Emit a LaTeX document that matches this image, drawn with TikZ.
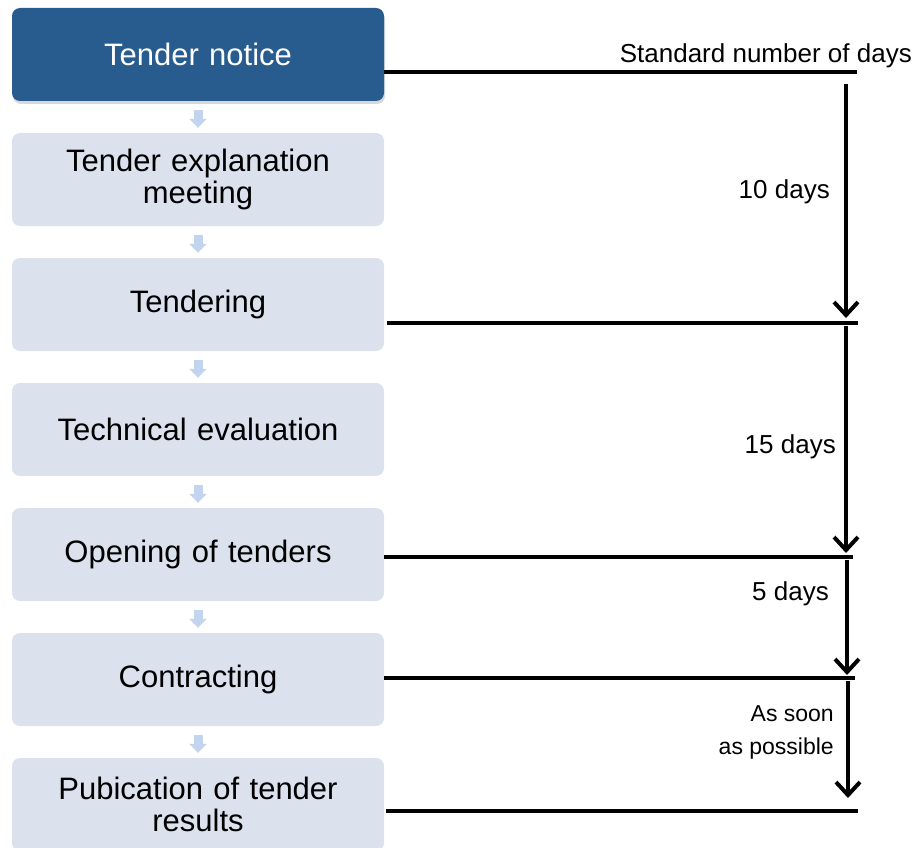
\documentclass[tikz,border=0pt]{standalone}
\usepackage{fontspec}
\setmainfont{Liberation Sans}
\usetikzlibrary{arrows.meta,shadows}

\definecolor{noticeblue}{HTML}{285C8F}
\definecolor{stepgrey}{HTML}{DCE1EE}
\definecolor{hintblue}{HTML}{C3D4EE}

\tikzset{
    stepbox/.style={rounded corners=8pt, fill=stepgrey, minimum width=372pt, minimum height=93pt,
        text width=360pt, align=center, inner sep=0pt, font=\fontsize{31}{32}\selectfont},
    firstbox/.style={stepbox, fill=noticeblue, text=white,
        drop shadow={shadow xshift=1pt, shadow yshift=-3pt, opacity=0.3}},
    hint/.style={line width=9pt, hintblue, -{Triangle[length=9pt, width=17pt]},
        shorten <=9pt, shorten >=5pt},
    cutline/.style={line width=4pt},
    spanarrow/.style={line width=4pt, ->},
    daylabel/.style={anchor=base east, inner sep=0pt, font=\fontsize{26}{30}\selectfont},
}

\begin{document}
\begin{tikzpicture}[x=1pt, y=-1pt, >={Straight Barb[length=13pt, width=24pt]}]
            \useasboundingbox (0,0) rectangle (916,848);

            % steps on the left
            \node[firstbox] (notice) at (198, 54.5) {Tender notice};
            \node[stepbox] (meeting) at (198, 179.5) {Tender explanation\\meeting};
            \node[stepbox] (tendering) at (198, 304.5) {Tendering};
            \node[stepbox] (evaluation) at (198, 429.5) {Technical evaluation};
            \node[stepbox] (opening) at (198, 554.5) {Opening of tenders};
            \node[stepbox] (contracting) at (198, 679.5) {Contracting};
            \node[stepbox] (results) at (198, 804.5) {Pubication of tender\\results};

            \draw[hint] (notice) -- (meeting);
            \draw[hint] (meeting) -- (tendering);
            \draw[hint] (tendering) -- (evaluation);
            \draw[hint] (evaluation) -- (opening);
            \draw[hint] (opening) -- (contracting);
            \draw[hint] (contracting) -- (results);

            % time line on the right
            \coordinate (end1) at (857, 72);
            \coordinate (end2) at (858, 323);
            \coordinate (end3) at (853, 557);
            \coordinate (end4) at (855, 678);
            \coordinate (end5) at (858, 811);

            \draw[cutline] (notice.east |- end1) -- (end1);
            \draw[cutline] ([xshift=3pt]tendering.east |- end2) -- (end2);
            \draw[cutline] (opening.east |- end3) -- (end3);
            \draw[cutline] (contracting.east |- end4) -- (end4);
            \draw[cutline] ([xshift=2pt]results.east |- end5) -- (end5);

            \coordinate (top1) at (846, 84);
            \coordinate (tip1) at (846, 318);
            \coordinate (top2) at (846, 326);
            \coordinate (tip2) at (846, 553);
            \coordinate (top3) at (847, 560);
            \coordinate (tip3) at (847, 675);
            \coordinate (top4) at (848, 681);
            \coordinate (tip4) at (848, 798);

            \draw[spanarrow] (top1) -- (tip1);
            \draw[spanarrow] (top2) -- (tip2);
            \draw[spanarrow] (top3) -- (tip3);
            \draw[spanarrow] (top4) -- (tip4);

            \node[daylabel] (standard) at (912, 63) {Standard number of days};
            \node[daylabel] (ten) at (830, 198) {10 days};
            \node[daylabel] (fifteen) at (836, 453) {15 days};
            \node[daylabel] (five) at (829, 600) {5 days};
            \node[daylabel, align=right, font=\fontsize{23}{33}\selectfont] (soon) at (834, 754)
                {As soon\\as possible};
        \end{tikzpicture}
\end{document}
